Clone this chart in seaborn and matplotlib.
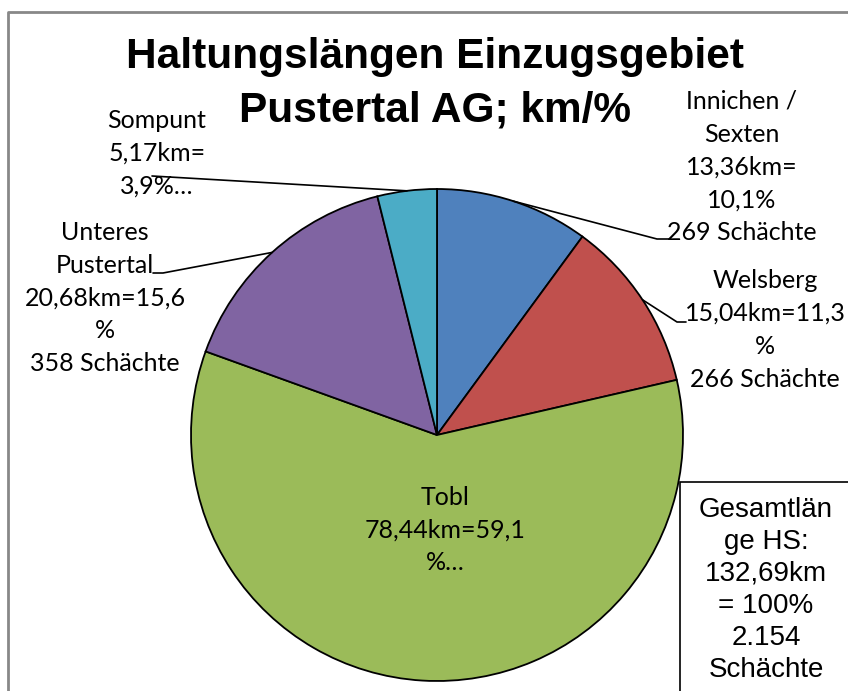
import numpy as np
import matplotlib
matplotlib.use("Agg")
import matplotlib.pyplot as plt
import seaborn as sns
from matplotlib.patches import Rectangle

# Pie data (clockwise from 12 o'clock)
regions = ["Innichen / Sexten", "Welsberg", "Tobl", "Unteres Pustertal", "Sompunt"]
km = [13.36, 15.04, 78.44, 20.68, 5.17]
label_texts = [
    "Innichen /\nSexten\n13,36km=\n10,1%\n269 Schächte",
    "Welsberg\n15,04km=11,3\n%\n266 Schächte",
    "Tobl\n78,44km=59,1\n%…",
    "Unteres\nPustertal\n20,68km=15,6\n%\n358 Schächte",
    "Sompunt\n5,17km=\n3,9%…",
]
colors = ["#4F81BD", "#C0504D", "#9BBB59", "#8064A2", "#4BACC6"]
title_lines = ["Haltungslängen Einzugsgebiet", "Pustertal AG; km/%"]
total_text = "Gesamtlän\nge HS:\n132,69km\n= 100%\n2.154\nSchächte"

W, H = 848, 691

sns.set_theme(style="white")
plt.rcParams["font.family"] = ["Lato", "DejaVu Sans"]
palette = sns.color_palette(colors)


def fy(y):
    # pixel row -> data y
    return H - y


fig = plt.figure(figsize=(W / 100, H / 100), dpi=100)
ax = fig.add_axes([0, 0, 1, 1])

cx, cy, r = 437, 435, 246
wedges, _ = ax.pie(km, colors=palette, startangle=90, counterclock=False,
                   center=(cx, fy(cy)), radius=r,
                   wedgeprops=dict(edgecolor="black", linewidth=1.3))
ax.set_xlim(0, W)
ax.set_ylim(0, H)
ax.set_aspect("equal")
ax.axis("off")

# label text positions (center) and leader line elbow/end points
label_pos = [(742, 167), (765, 330), (445, 530), (105, 298), (157, 153)]
leader = [
    [(657, 239), (670, 239)],
    [(677, 322), (686, 322)],
    None,
    [(163, 273), (153, 273)],
    [(152, 176)],
]

for w, txt, pos, ld in zip(wedges, label_texts, label_pos, leader):
    ax.text(pos[0], fy(pos[1]), txt, ha="center", va="center",
            fontsize=18, linespacing=1.52, color="black")
    if ld is not None:
        ang = np.deg2rad((w.theta1 + w.theta2) / 2)
        x0 = cx + r * np.cos(ang)
        y0 = fy(cy) + r * np.sin(ang)
        xs = [x0] + [p[0] for p in ld]
        ys = [y0] + [fy(p[1]) for p in ld]
        ax.plot(xs, ys, color="black", lw=1.2)

# title, one text per line
for line, ty in zip(title_lines, [57, 110]):
    ax.text(435, fy(ty), line, ha="center", va="center", fontsize=30.5,
            fontweight="bold", family="Liberation Sans", color="black")

# total box
ax.add_patch(Rectangle((680, fy(H + 5)), 200, H + 5 - 482, facecolor="white",
                       edgecolor="black", lw=1.2))
ax.text(766, fy(590), total_text, ha="center", va="center", fontsize=20,
        family="Liberation Sans", linespacing=1.30, color="black")

# outer chart border
ax.plot([8, 8, W + 5], [fy(H + 5), fy(12), fy(12)], color="#888888", lw=2)

fig.savefig("out.png", dpi=100)
